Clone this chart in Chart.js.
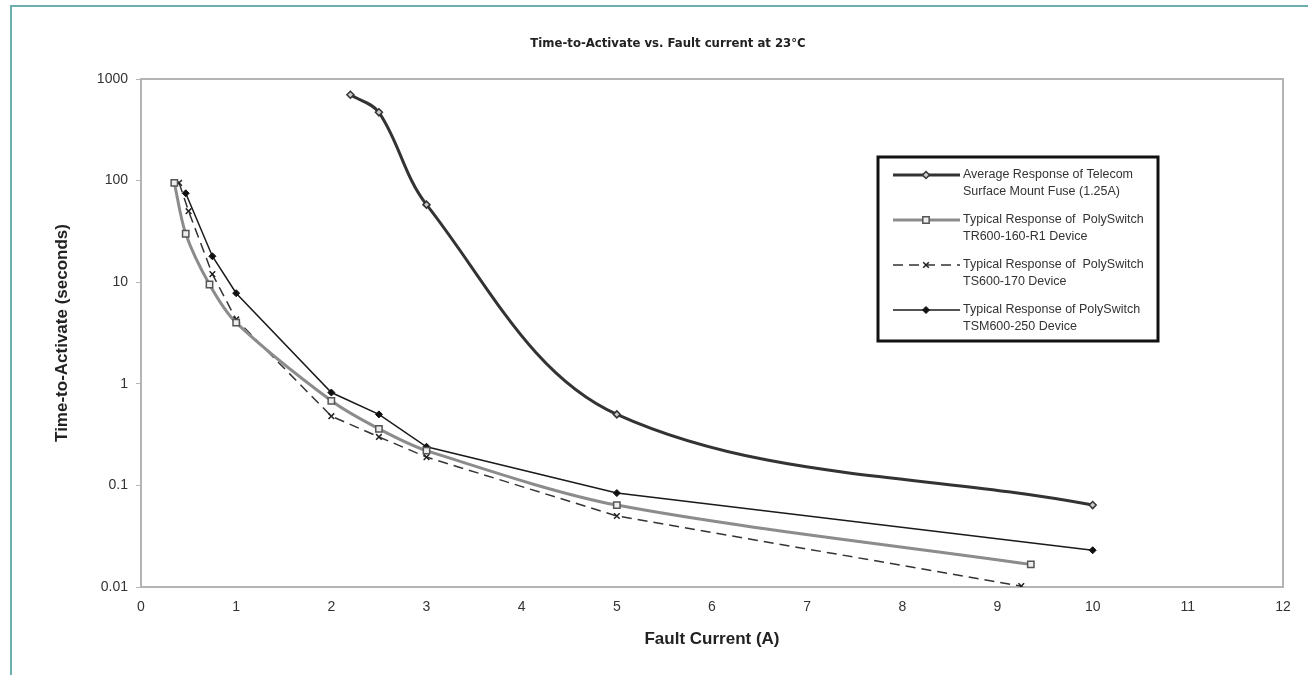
<!DOCTYPE html>
<html>
<head>
<meta charset="utf-8">
<title>Time-to-Activate vs. Fault current</title>
<script src="https://cdn.jsdelivr.net/npm/chart.js@4"></script>
<style>
  html, body { margin: 0; padding: 0; background: #fff; }
  #wrap { position: relative; width: 1308px; height: 675px; overflow: hidden; }
  #frame { position: absolute; left: 10px; top: 5px; right: 0; bottom: 0;
           border-left: 2px solid #6aaeb0; border-top: 2px solid #6aaeb0; }
  #chart { position: absolute; left: 0; top: 0; }
</style>
</head>
<body>
<div id="wrap">
  <div id="frame"></div>
  <canvas id="chart" width="1308" height="675"></canvas>
</div>
<script>
  // values (current in A, time in s)
  const fuseX = [2.2, 2.5, 3.0, 5.0, 10.0];
  const fuseY = [700, 470, 58, 0.5, 0.064];

  const trX = [0.35, 0.47, 0.72, 1.0, 2.0, 2.5, 3.0, 5.0, 9.35];
  const trY = [95, 30, 9.5, 4.0, 0.68, 0.36, 0.22, 0.064, 0.0167];

  const tsX = [0.4, 0.5, 0.75, 1.0, 2.0, 2.5, 3.0, 5.0, 9.25];
  const tsY = [95, 50, 12, 4.3, 0.48, 0.30, 0.19, 0.05, 0.0102];

  const tsmX = [0.47, 0.75, 1.0, 2.0, 2.5, 3.0, 5.0, 10.0];
  const tsmY = [75, 18, 7.8, 0.82, 0.5, 0.24, 0.084, 0.023];

  const yTicks = [0.01, 0.1, 1, 10, 100, 1000];

  const seriesNames = [
    ['Average Response of Telecom', 'Surface Mount Fuse (1.25A)'],
    ['Typical Response of  PolySwitch', 'TR600-160-R1 Device'],
    ['Typical Response of  PolySwitch', 'TS600-170 Device'],
    ['Typical Response of PolySwitch', 'TSM600-250 Device']
  ];

  const chartTitle = 'Time-to-Activate vs. Fault current at 23\u00B0C';
  const xTitle = 'Fault Current (A)';
  const yTitle = 'Time-to-Activate (seconds)';

  const pts = (xs, ys) => xs.map((x, i) => ({ x: x, y: ys[i] }));

  const axisFont = { family: "'Liberation Sans', Arial, sans-serif", size: 14 };
  const boldFont = { family: "'Liberation Sans', Arial, sans-serif", size: 17, weight: 'bold' };

  // title, plot frame (top/right) and boxed legend
  const decor = {
    id: 'decor',
    afterDraw(chart) {
      const ctx = chart.ctx;
      const a = chart.chartArea;
      ctx.save();
      ctx.strokeStyle = '#b4b4b4';
      ctx.lineWidth = 2;
      ctx.beginPath();
      ctx.moveTo(a.left, a.top);
      ctx.lineTo(a.right, a.top);
      ctx.lineTo(a.right, a.bottom);
      ctx.stroke();

      ctx.fillStyle = '#222';
      ctx.font = "bold 13px 'Liberation Sans Narrow', 'DejaVu Sans Condensed', sans-serif";
      ctx.textAlign = 'center';
      ctx.textBaseline = 'middle';
      ctx.fillText(chartTitle, 668, 44);

      // legend box
      const bx = 878, by = 157, bw = 280, bh = 184;
      ctx.fillStyle = '#fff';
      ctx.fillRect(bx, by, bw, bh);
      ctx.strokeStyle = '#111';
      ctx.lineWidth = 3;
      ctx.strokeRect(bx, by, bw, bh);

      ctx.font = "12.5px 'Liberation Sans', Arial, sans-serif";
      ctx.textAlign = 'left';
      chart.data.datasets.forEach((ds, i) => {
        const y0 = by + 18 + i * 45;
        ctx.save();
        ctx.strokeStyle = ds.borderColor;
        ctx.lineWidth = ds.borderWidth;
        ctx.setLineDash(ds.borderDash || []);
        ctx.beginPath();
        ctx.moveTo(893, y0);
        ctx.lineTo(960, y0);
        ctx.stroke();
        ctx.setLineDash([]);
        ctx.fillStyle = ds.pointBackgroundColor;
        ctx.strokeStyle = ds.pointBorderColor;
        ctx.lineWidth = ds.pointBorderWidth;
        Chart.helpers.drawPoint(ctx, { pointStyle: ds.pointStyle, radius: ds.pointRadius, borderWidth: ds.pointBorderWidth }, 926, y0);
        ctx.restore();
        ctx.fillStyle = '#333';
        ctx.fillText(seriesNames[i][0], 963, y0);
        ctx.fillText(seriesNames[i][1], 963, y0 + 17);
      });
      ctx.restore();
    }
  };

  new Chart(document.getElementById('chart'), {
    type: 'line',
    data: {
      datasets: [
        {
          label: seriesNames[0].join(' '),
          data: pts(fuseX, fuseY),
          borderColor: '#333',
          borderWidth: 3,
          tension: 0.35,
          pointStyle: 'rectRot',
          pointRadius: 3.5,
          pointBackgroundColor: '#ccc',
          pointBorderColor: '#333',
          pointBorderWidth: 1.5
        },
        {
          label: seriesNames[1].join(' '),
          data: pts(trX, trY),
          borderColor: '#8c8c8c',
          borderWidth: 3,
          tension: 0.3,
          pointStyle: 'rect',
          pointRadius: 4.5,
          pointBackgroundColor: '#eee',
          pointBorderColor: '#555',
          pointBorderWidth: 1.5
        },
        {
          label: seriesNames[2].join(' '),
          data: pts(tsX, tsY),
          borderColor: '#333',
          borderWidth: 1.5,
          borderDash: [10, 6],
          tension: 0,
          pointStyle: 'crossRot',
          pointRadius: 4,
          pointBackgroundColor: '#333',
          pointBorderColor: '#222',
          pointBorderWidth: 1.5
        },
        {
          label: seriesNames[3].join(' '),
          data: pts(tsmX, tsmY),
          borderColor: '#1a1a1a',
          borderWidth: 1.5,
          tension: 0,
          pointStyle: 'rectRot',
          pointRadius: 3.5,
          pointBackgroundColor: '#111',
          pointBorderColor: '#111',
          pointBorderWidth: 1
        }
      ]
    },
    options: {
      responsive: false,
      animation: false,
      layout: { padding: { left: 0, right: 25, top: 79, bottom: 0 } },
      plugins: {
        legend: { display: false },
        title: { display: false },
        tooltip: { enabled: false }
      },
      scales: {
        x: {
          type: 'linear',
          min: 0,
          max: 12,
          afterFit: s => { s.height = 88; },
          ticks: { stepSize: 1, autoSkip: false, maxRotation: 0, padding: 12, color: '#333', font: axisFont },
          grid: { drawOnChartArea: false, drawTicks: false },
          border: { color: '#b4b4b4', width: 2 },
          title: { display: true, text: xTitle, color: '#222', font: boldFont, padding: { bottom: 25 } }
        },
        y: {
          type: 'logarithmic',
          min: 0.01,
          max: 1000,
          afterFit: s => { s.width = 141; },
          afterBuildTicks: s => { s.ticks = yTicks.map(v => ({ value: v })); },
          ticks: { callback: v => String(v), padding: 8, color: '#333', font: axisFont },
          grid: { drawOnChartArea: false, drawTicks: true, tickLength: 5, color: '#b4b4b4' },
          border: { color: '#b4b4b4', width: 2 },
          title: { display: true, text: yTitle, color: '#222', font: boldFont, padding: { top: 52 } }
        }
      }
    },
    plugins: [decor]
  });
</script>
</body>
</html>
